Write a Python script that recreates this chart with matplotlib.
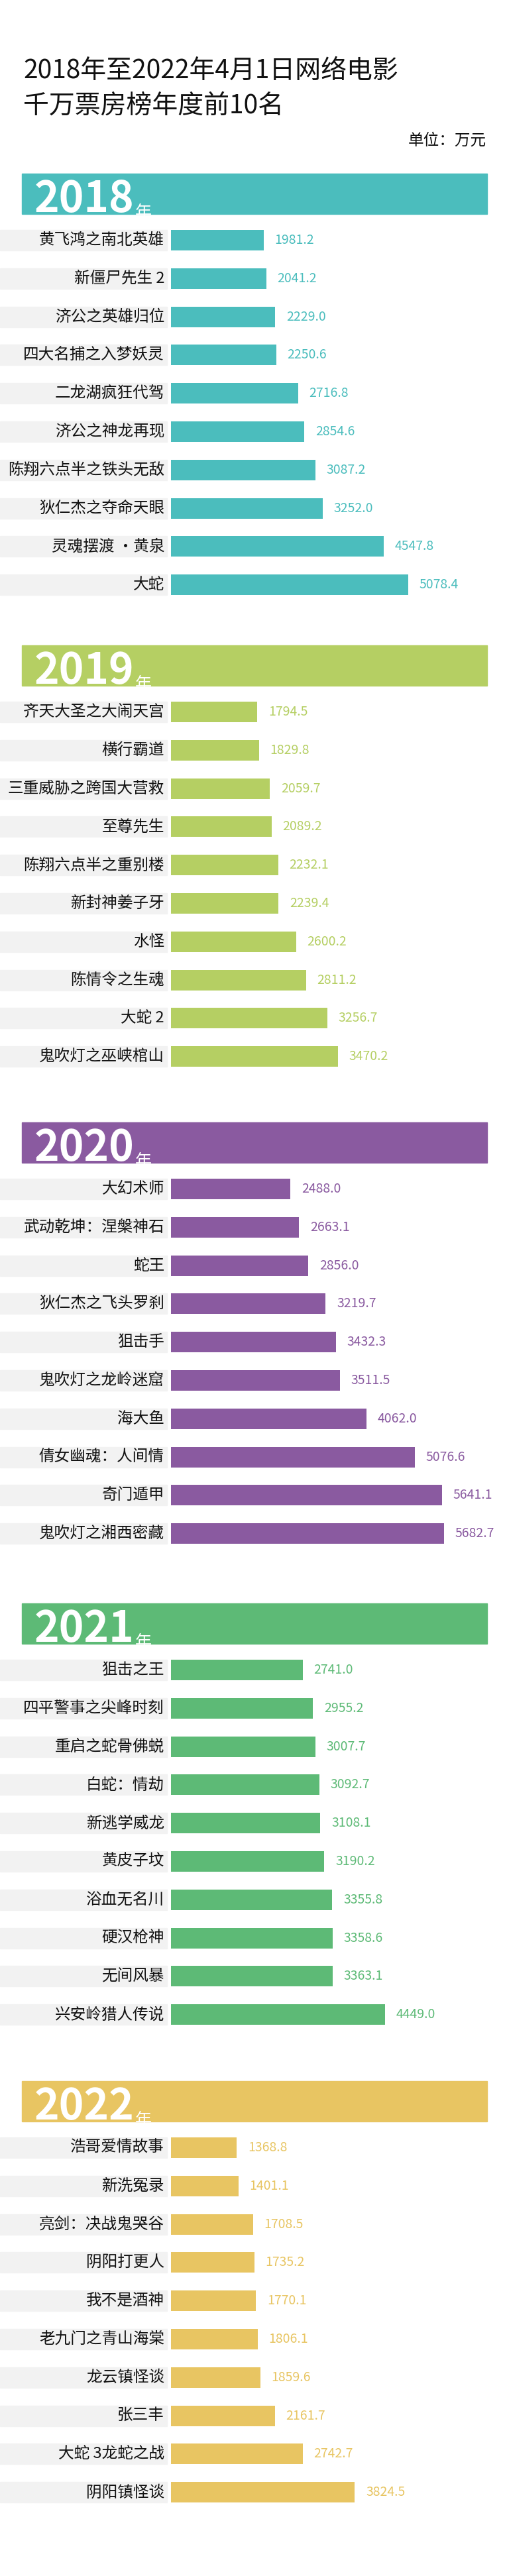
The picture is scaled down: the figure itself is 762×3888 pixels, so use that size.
import matplotlib
matplotlib.use("Agg")
import matplotlib.pyplot as plt
from matplotlib.patches import Rectangle

plt.rcParams['font.family'] = ['Noto Sans CJK SC', 'DejaVu Sans']

years = ['2018', '2019', '2020', '2021', '2022']
titles_2018 = ['黄飞鸿之南北英雄', '新僵尸先生 2', '济公之英雄归位', '四大名捕之入梦妖灵', '二龙湖疯狂代驾',
               '济公之神龙再现', '陈翔六点半之铁头无敌', '狄仁杰之夺命天眼', '灵魂摆渡 ·黄泉', '大蛇']
values_2018 = [1981.2, 2041.2, 2229.0, 2250.6, 2716.8, 2854.6, 3087.2, 3252.0, 4547.8, 5078.4]
titles_2019 = ['齐天大圣之大闹天宫', '横行霸道', '三重威胁之跨国大营救', '至尊先生', '陈翔六点半之重别楼',
               '新封神姜子牙', '水怪', '陈情令之生魂', '大蛇 2', '鬼吹灯之巫峡棺山']
values_2019 = [1794.5, 1829.8, 2059.7, 2089.2, 2232.1, 2239.4, 2600.2, 2811.2, 3256.7, 3470.2]
titles_2020 = ['大幻术师', '武动乾坤：涅槃神石', '蛇王', '狄仁杰之飞头罗刹', '狙击手',
               '鬼吹灯之龙岭迷窟', '海大鱼', '倩女幽魂：人间情', '奇门遁甲', '鬼吹灯之湘西密藏']
values_2020 = [2488.0, 2663.1, 2856.0, 3219.7, 3432.3, 3511.5, 4062.0, 5076.6, 5641.1, 5682.7]
titles_2021 = ['狙击之王', '四平警事之尖峰时刻', '重启之蛇骨佛蜕', '白蛇：情劫', '新逃学威龙',
               '黄皮子坟', '浴血无名川', '硬汉枪神', '无间风暴', '兴安岭猎人传说']
values_2021 = [2741.0, 2955.2, 3007.7, 3092.7, 3108.1, 3190.2, 3355.8, 3358.6, 3363.1, 4449.0]
titles_2022 = ['浩哥爱情故事', '新洗冤录', '亮剑：决战鬼哭谷', '阴阳打更人', '我不是酒神',
               '老九门之青山海棠', '龙云镇怪谈', '张三丰', '大蛇 3龙蛇之战', '阴阳镇怪谈']
values_2022 = [1368.8, 1401.1, 1708.5, 1735.2, 1770.1, 1806.1, 1859.6, 2161.7, 2742.7, 3824.5]

all_titles = [titles_2018, titles_2019, titles_2020, titles_2021, titles_2022]
all_values = [values_2018, values_2019, values_2020, values_2021, values_2022]

colors = ['#4bbdbd', '#b5cf63', '#8a5aa0', '#5dba76', '#e8c562']
header_tops = [262, 974, 1694, 2420, 3141]
xmax = [7150, 6950, 6950, 6950, 6950]

W, H = 762, 3888
fig = plt.figure(figsize=(W / 100, H / 100), dpi=100)
ax0 = fig.add_axes([0, 0, 1, 1])
ax0.set_xlim(0, W)
ax0.set_ylim(H, 0)
ax0.axis('off')

ax0.text(35, 107, '2018年至2022年4月1日网络电影', fontsize=28, va='center', ha='left', color='#111111')
ax0.text(35, 160, '千万票房榜年度前10名', fontsize=28, va='center', ha='left', color='#111111')
ax0.text(734, 212, '单位：万元', fontsize=17, va='center', ha='right', color='#111111')

step = 57.8
barh_px = 31
bar_left = 258
for k in range(5):
    top = header_tops[k]
    col = colors[k]
    ax0.add_patch(Rectangle((33, top), 702, 61, color=col, zorder=1))
    t = ax0.text(52, top + 58, years[k], fontsize=46, fontweight='bold', color='white',
                 va='baseline', ha='left', zorder=2)
    ax0.annotate('年', xy=(1, 0), xycoords=t, xytext=(1, 0), textcoords='offset points',
                 fontsize=18, color='white', va='bottom', ha='left', zorder=2)
    first_c = top + 85 + barh_px / 2
    for i, name in enumerate(all_titles[k]):
        c = first_c + i * step
        ax0.add_patch(Rectangle((0, c - barh_px / 2), 252, barh_px, color='#f2f2f2', zorder=1))
        ax0.text(248, c, name, fontsize=17, ha='right', va='center', color='#111111', zorder=2)
    # bar axes
    ax_top = first_c - step / 2
    ax_h = step * 10
    ax = fig.add_axes([bar_left / W, 1 - (ax_top + ax_h) / H, (W - bar_left) / W, ax_h / H])
    ax.set_xlim(0, xmax[k])
    ax.set_ylim(9.5, -0.5)
    ax.axis('off')
    ax.patch.set_alpha(0)
    vals = all_values[k]
    ax.barh(range(10), vals, height=barh_px / step, color=col)
    for i, v in enumerate(vals):
        ax.annotate(f'{v:.1f}', xy=(v, i), xytext=(12, 0), textcoords='offset points',
                    fontsize=14, color=col, va='center', ha='left')

fig.savefig('out.png', dpi=100)
